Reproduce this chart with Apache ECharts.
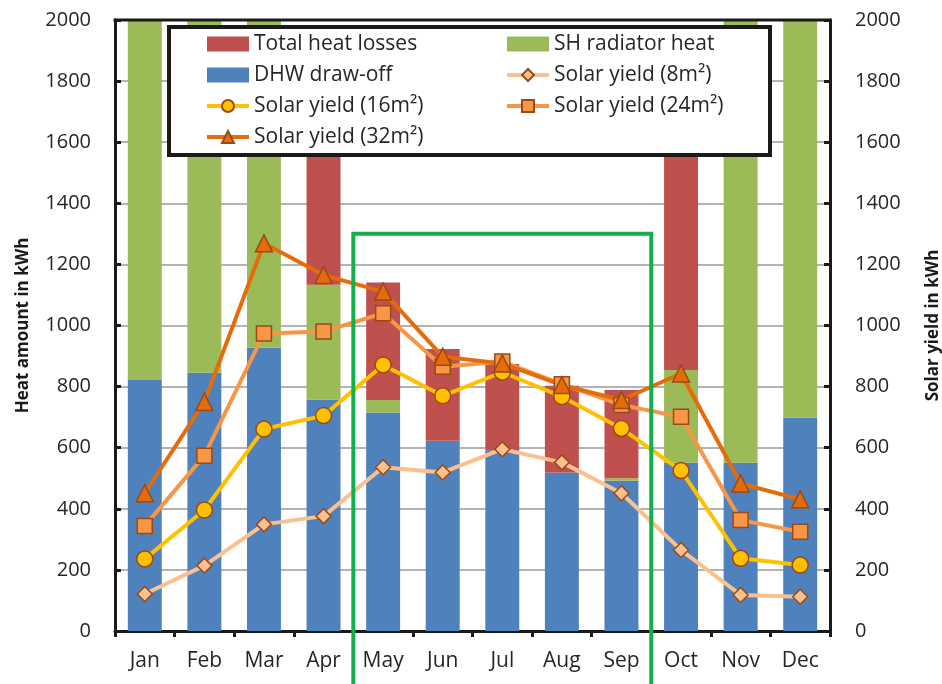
<!DOCTYPE html>
<html>
<head>
<meta charset="utf-8">
<script src="https://cdn.jsdelivr.net/npm/echarts@6/dist/echarts.min.js"></script>
<style>
html, body { margin: 0; padding: 0; background: #fff; }
#main { width: 942px; height: 684px; }
</style>
</head>
<body>
<div id="main"></div>
<script>
// months
var months = ['Jan', 'Feb', 'Mar', 'Apr', 'May', 'Jun', 'Jul', 'Aug', 'Sep', 'Oct', 'Nov', 'Dec'];

// heat amounts (kWh), stacked bottom to top
var dhwDrawOff = [822, 845, 927, 758, 715, 623, 592, 519, 492, 551, 551, 698];
var shRadiator = [1500, 1400, 1300, 375, 41, 0, 0, 0, 8, 303, 1600, 1500];
var heatLosses = [400, 400, 400, 570, 385, 300, 282, 284, 289, 800, 300, 300];

// solar yield (kWh) per collector area
var solar8 = [121, 214, 349, 376, 536, 519, 595, 552, 451, 265, 118, 112];
var solar16 = [236, 396, 661, 705, 871, 770, 847, 767, 663, 525, 238, 216];
var solar24 = [344, 574, 974, 980, 1040, 865, 882, 808, 740, 701, 363, 325];
var solar32 = [451, 750, 1269, 1165, 1111, 898, 876, 805, 756, 843, 483, 431];

var yTicks = [0, 200, 400, 600, 800, 1000, 1200, 1400, 1600, 1800, 2000];

var chart = echarts.init(document.getElementById('main'));
var font = 'Open Sans';
var brown = '#9a4a12';

function lineSeries(name, data, color, symbol, size) {
    return {
        name: name,
        type: 'line',
        yAxisIndex: 1,
        data: data,
        z: 5,
        symbol: symbol,
        symbolSize: size,
        lineStyle: { color: color, width: 4 },
        itemStyle: { color: color, borderColor: brown, borderWidth: 1.5 }
    };
}

function tickText(v) { return yTicks.indexOf(v) >= 0 ? String(v) : ''; }

var legendText = { fontFamily: font, fontSize: 21, color: '#262626', lineHeight: 22 };

var option = {
    animation: false,
    grid: {
        left: 115, right: 112, top: 20, bottom: 53,
        outerBoundsMode: 'none', containLabel: false
    },
    legend: [
        {
            orient: 'vertical', left: 205, top: 33, padding: 0,
            itemWidth: 42, itemHeight: 15, itemGap: 9,
            textStyle: legendText, z: 6,
            lineStyle: { width: 4 },
            data: [
                { name: 'Total heat losses', icon: 'rect' },
                { name: 'DHW draw-off', icon: 'rect' },
                'Solar yield (16m²)',
                'Solar yield (32m²)'
            ]
        },
        {
            orient: 'vertical', left: 505, top: 33, padding: 0,
            itemWidth: 42, itemHeight: 15, itemGap: 9,
            textStyle: legendText, z: 6,
            lineStyle: { width: 4 },
            data: [
                { name: 'SH radiator heat', icon: 'rect' },
                'Solar yield (8m²)',
                'Solar yield (24m²)'
            ]
        }
    ],
    xAxis: {
        type: 'category',
        data: months,
        axisLine: { lineStyle: { color: '#1a1a1a', width: 3 } },
        axisTick: { show: true, inside: false, length: 6, lineStyle: { color: '#1a1a1a', width: 3 } },
        axisLabel: { fontFamily: font, fontSize: 21, color: '#262626', margin: 20 }
    },
    yAxis: [
        {
            type: 'value', min: 0, max: 2000, interval: 200,
            name: 'Heat amount in kWh', nameLocation: 'middle', nameGap: 83, nameRotate: 90,
            nameTextStyle: { fontFamily: font, fontSize: 17, fontWeight: 'bold', color: '#1a1a1a' },
            axisLine: { show: true, lineStyle: { color: '#1a1a1a', width: 3 } },
            axisTick: { show: true, inside: true, length: 6, lineStyle: { color: '#1a1a1a', width: 3 } },
            axisLabel: { fontFamily: font, fontSize: 20, color: '#262626', margin: 24, formatter: tickText },
            splitLine: { lineStyle: { color: '#9a9a9a', width: 1.5 } }
        },
        {
            type: 'value', min: 0, max: 2000, interval: 200,
            name: 'Solar yield in kWh', nameLocation: 'middle', nameGap: 95, nameRotate: 90,
            nameTextStyle: { fontFamily: font, fontSize: 17, fontWeight: 'bold', color: '#1a1a1a' },
            axisLine: { show: true, lineStyle: { color: '#1a1a1a', width: 3 } },
            axisTick: { show: true, inside: true, length: 6, lineStyle: { color: '#1a1a1a', width: 3 } },
            axisLabel: { fontFamily: font, fontSize: 20, color: '#262626', margin: 25, formatter: tickText },
            splitLine: { show: false }
        }
    ],
    series: [
        { name: 'DHW draw-off', type: 'bar', stack: 'heat', data: dhwDrawOff,
          barCategoryGap: '43%', itemStyle: { color: '#4f81bd' } },
        { name: 'SH radiator heat', type: 'bar', stack: 'heat', data: shRadiator,
          itemStyle: { color: '#9bbb59' } },
        { name: 'Total heat losses', type: 'bar', stack: 'heat', data: heatLosses,
          itemStyle: { color: '#c0504d' } },
        lineSeries('Solar yield (8m²)', solar8, '#fac090', 'diamond', 15),
        lineSeries('Solar yield (16m²)', solar16, '#ffc000', 'circle', 16),
        lineSeries('Solar yield (24m²)', solar24, '#f79646', 'rect', 15),
        lineSeries('Solar yield (32m²)', solar32, '#e46c0a', 'triangle', 17)
    ]
};
chart.setOption(option);

// legend frame, top frame line and the May-Sep highlight box, placed from the axes
var xMay = chart.convertToPixel({ xAxisIndex: 0 }, 'May');
var xSep = chart.convertToPixel({ xAxisIndex: 0 }, 'Sep');
var xJan = chart.convertToPixel({ xAxisIndex: 0 }, 'Jan');
var xDec = chart.convertToPixel({ xAxisIndex: 0 }, 'Dec');
var band = chart.convertToPixel({ xAxisIndex: 0 }, 'Jun') - xMay;
var yTop = chart.convertToPixel({ yAxisIndex: 0 }, 1300);
var yMax = chart.convertToPixel({ yAxisIndex: 0 }, 2000);

chart.setOption({
    graphic: [
        {
            id: 'frameTop', type: 'line', z: 10,
            shape: { x1: xJan - band / 2 - 1.5, y1: yMax, x2: xDec + band / 2 + 1.5, y2: yMax },
            style: { stroke: '#1a1a1a', lineWidth: 3 }
        },
        {
            id: 'legendBox', type: 'rect', z: 4,
            shape: { x: 169, y: 27, width: 601, height: 128 },
            style: { fill: '#fff', stroke: '#1a1a1a', lineWidth: 4 }
        },
        {
            id: 'summer', type: 'rect', z: 10,
            shape: { x: xMay - band / 2, y: yTop, width: xSep - xMay + band, height: 684 - yTop + 2 },
            style: { fill: 'none', stroke: '#12b04b', lineWidth: 4 }
        }
    ]
});
</script>
</body>
</html>
